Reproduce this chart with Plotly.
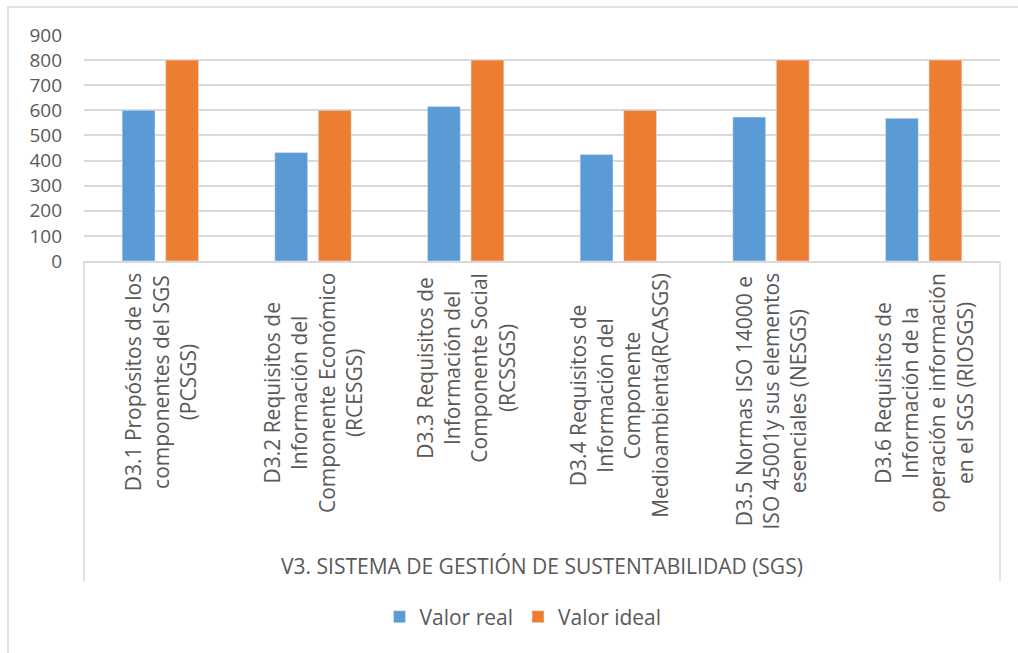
import plotly.graph_objects as go

categories = ["D3.1", "D3.2", "D3.3", "D3.4", "D3.5", "D3.6"]
category_labels = [
    "D3.1 Propósitos de los<br>componentes del SGS<br>(PCSGS)",
    "D3.2 Requisitos de<br>Información del<br>Componente Económico<br>(RCESGS)",
    "D3.3 Requisitos de<br>Información del<br>Componente Social<br>(RCSSGS)",
    "D3.4 Requisitos de<br>Información del<br>Componente<br>Medioambienta(RCASGS)",
    "D3.5 Normas ISO 14000 e<br>ISO 45001y sus elementos<br>esenciales (NESGS)",
    "D3.6 Requisitos de<br>Información de la<br>operación e información<br>en el SGS (RIOSGS)",
]
group_title = "V3. SISTEMA DE GESTIÓN DE SUSTENTABILIDAD (SGS)"
valor_real = [600, 432, 615, 424, 573, 568]
valor_ideal = [800, 600, 800, 600, 800, 800]
y_ticks = [0, 100, 200, 300, 400, 500, 600, 700, 800, 900]

W, H = 1018, 653
L, R, T, B = 84, 18, 35, 392
pw, ph = W - L - R, H - T - B
def px(x):
    return (x - L) / pw
def py(y):
    return (H - B - y) / ph

FONT = "Open Sans"
TXT = "#595959"
GRID = "#D9D9D9"

fig = go.Figure()
fig.add_trace(go.Bar(x=categories, y=valor_real, name="Valor real",
                     marker=dict(color="#5B9BD5")))
fig.add_trace(go.Bar(x=categories, y=valor_ideal, name="Valor ideal",
                     marker=dict(color="#ED7D31")))

annotations = []
for c, lab in zip(categories, category_labels):
    annotations.append(dict(x=c, xref="x", y=py(271), yref="paper",
                            text=lab, textangle=-90, showarrow=False,
                            xanchor="center", yanchor="top", align="center",
                            font=dict(family=FONT, size=21, color=TXT)))
annotations.append(dict(x=0.5, xref="paper", y=py(566), yref="paper",
                        text=group_title, showarrow=False,
                        xanchor="center", yanchor="middle",
                        font=dict(family=FONT, size=21, color=TXT)))

shapes = [
    dict(type="rect", xref="paper", yref="paper", x0=px(8), x1=px(1030),
         y0=py(670), y1=py(7), line=dict(color=GRID, width=1.5), layer="below"),
    dict(type="line", xref="paper", yref="paper", x0=0, x1=0, y0=0, y1=py(581),
         line=dict(color=GRID, width=1.5)),
    dict(type="line", xref="paper", yref="paper", x0=1, x1=1, y0=0, y1=py(581),
         line=dict(color=GRID, width=1.5)),
]

fig.update_layout(
    width=W, height=H,
    margin=dict(l=L, r=R, t=T, b=B),
    paper_bgcolor="white", plot_bgcolor="white",
    barmode="group", bargap=0.43, bargroupgap=0.245,
    font=dict(family=FONT, color=TXT),
    showlegend=True,
    legend=dict(orientation="h", x=px(523), xanchor="center", y=py(617),
                yanchor="middle", font=dict(family=FONT, size=21, color=TXT),
                itemwidth=30),
    annotations=annotations,
    shapes=shapes,
    xaxis=dict(showticklabels=False, showline=True, linecolor=GRID, linewidth=1.5,
               showgrid=False, ticks=""),
    yaxis=dict(range=[0, 900], tickvals=y_ticks, showgrid=True, gridcolor=GRID,
               gridwidth=1.5, zeroline=False, showline=False,
               tickfont=dict(family=FONT, size=19, color=TXT),
               ticklabelstandoff=21),
)

fig.write_html("out.html")
